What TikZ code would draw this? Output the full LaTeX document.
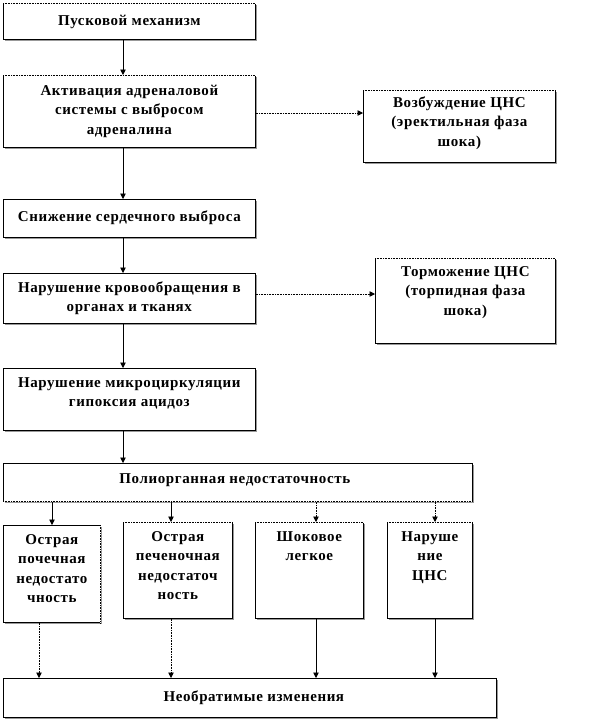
\documentclass[tikz,border=0pt]{standalone}
\usepackage{fontspec}
\setmainfont{Liberation Serif}
\newfontfamily\boxfont[LetterSpace=4]{Liberation Serif}
\usetikzlibrary{arrows.meta,shadows}
\begin{document}
\begin{tikzpicture}[x=1pt,y=-1pt,
  box/.style={draw=black, line width=0.7pt, fill=white, inner sep=0pt, anchor=north west,
    drop shadow={shadow xshift=1.2pt, shadow yshift=-1.2pt, fill=black!40, opacity=1}},
  txt/.style={anchor=north, inner sep=0pt, align=center, font=\boxfont\bfseries\fontsize{15}{19.5}\selectfont},
  arr/.style={-{Triangle[length=5.5pt,width=5.5pt]}, line width=0.7pt},
  darr/.style={arr, dash pattern=on 0.8pt off 0.8pt},
  dside/.style={line width=0.7pt, dash pattern=on 0.8pt off 0.8pt, preaction={draw=white, solid, line width=1.4pt}}]
\useasboundingbox (0,0) rectangle (615,720);
% boxes
\node[box, minimum width=252pt, minimum height=36pt] (b1) at (3,3) {};
\node[box, minimum width=252pt, minimum height=72pt] (b2) at (3,75) {};
\node[box, minimum width=252pt, minimum height=38pt] (b3) at (3,199) {};
\node[box, minimum width=252pt, minimum height=50pt] (b4) at (3,273) {};
\node[box, minimum width=252pt, minimum height=62pt] (b5) at (3,368) {};
\node[box, minimum width=469pt, minimum height=38pt] (b6) at (3,463) {};
\node[box, minimum width=192pt, minimum height=72pt] (v) at (363,90) {};
\node[box, minimum width=180pt, minimum height=85pt] (t) at (375,258) {};
\node[box, minimum width=97pt, minimum height=97pt] (a) at (3,525) {};
\node[box, minimum width=109pt, minimum height=96pt] (bb) at (123,522) {};
\node[box, minimum width=108pt, minimum height=96pt] (c) at (255,522) {};
\node[box, minimum width=85pt, minimum height=96pt] (d) at (387,522) {};
\node[box, minimum width=493pt, minimum height=39pt] (n) at (3,678) {};
% dotted sides
\draw[dside] (b1.north west) -- (b1.north east);
\draw[dside] (b2.north west) -- (b2.north east);
\draw[dside] (v.north west) -- (v.north east);
\draw[dside] (t.north west) -- (t.north east);
\draw[dside] (b6.south west) -- (b6.south east);
\draw[dside] (a.north east) -- (a.south east);
\draw[dside] (bb.north west) -- (bb.north east);
\draw[dside] (c.north west) -- (c.north east);
\draw[dside] (d.north west) -- (d.north east);
% texts
\node[txt] (t1) at ([yshift=-8.4pt]b1.north) {\strut Пусковой механизм};
\node[txt] (t2) at ([yshift=-6.4pt]b2.north) {\strut Активация адреналовой\\системы с выбросом\\адреналина};
\node[txt] (t3) at ([yshift=-8.4pt]b3.north) {\strut Снижение сердечного выброса};
\node[txt] (t4) at ([yshift=-5.4pt]b4.north) {\strut Нарушение кровообращения в\\органах и тканях};
\node[txt] (t5) at ([yshift=-5.4pt]b5.north) {\strut Нарушение микроциркуляции\\гипоксия ацидоз};
\node[txt] (t6) at ([yshift=-6.4pt,xshift=-3pt]b6.north) {\strut Полиорганная недостаточность};
\node[txt] (tv) at ([yshift=-3.4pt]v.north) {\strut Возбуждение ЦНС\\(эректильная фаза\\шока)};
\node[txt] (tt) at ([yshift=-4.4pt]t.north) {\strut Торможение ЦНС\\(торпидная фаза\\шока)};
\node[txt] (ta) at ([yshift=-5.4pt]a.north) {\strut Острая\\почечная\\недостато\\чность};
\node[txt] (tb) at ([yshift=-5.4pt]bb.north) {\strut Острая\\печеночная\\недостаточ\\ность};
\node[txt] (tc) at ([yshift=-5.4pt]c.north) {\strut Шоковое\\легкое};
\node[txt] (td) at ([yshift=-5.4pt]d.north) {\strut Наруше\\ние\\ЦНС};
\node[txt] (tn) at ([yshift=-9.4pt,xshift=4pt]n.north) {\strut Необратимые изменения};
% helper coordinates
\coordinate (mx) at (123,0);
\coordinate (yv) at (0,113);
\coordinate (yt) at (0,294);
\coordinate (xa) at (52,0);
\coordinate (xa2) at (39,0);
\coordinate (xb) at (171,0);
\coordinate (xc) at (316,0);
\coordinate (xd) at (435,0);
% connectors
\draw[arr] (b1.south -| mx) -- (b2.north -| mx);
\draw[arr] (b2.south -| mx) -- (b3.north -| mx);
\draw[arr] (b3.south -| mx) -- (b4.north -| mx);
\draw[arr] (b4.south -| mx) -- (b5.north -| mx);
\draw[arr] (b5.south -| mx) -- (b6.north -| mx);
\draw[darr] (b2.east |- yv) -- (v.west |- yv);
\draw[darr] (b4.east |- yt) -- (t.west |- yt);
\draw[arr] (b6.south -| xa) -- (a.north -| xa);
\draw[arr] (b6.south -| xb) -- (bb.north -| xb);
\draw[darr] (b6.south -| xc) -- (c.north -| xc);
\draw[darr] (b6.south -| xd) -- (d.north -| xd);
\draw[darr] (a.south -| xa2) -- (n.north -| xa2);
\draw[darr] (bb.south -| xb) -- (n.north -| xb);
\draw[arr] (c.south -| xc) -- (n.north -| xc);
\draw[arr] (d.south -| xd) -- (n.north -| xd);
\end{tikzpicture}
\end{document}
